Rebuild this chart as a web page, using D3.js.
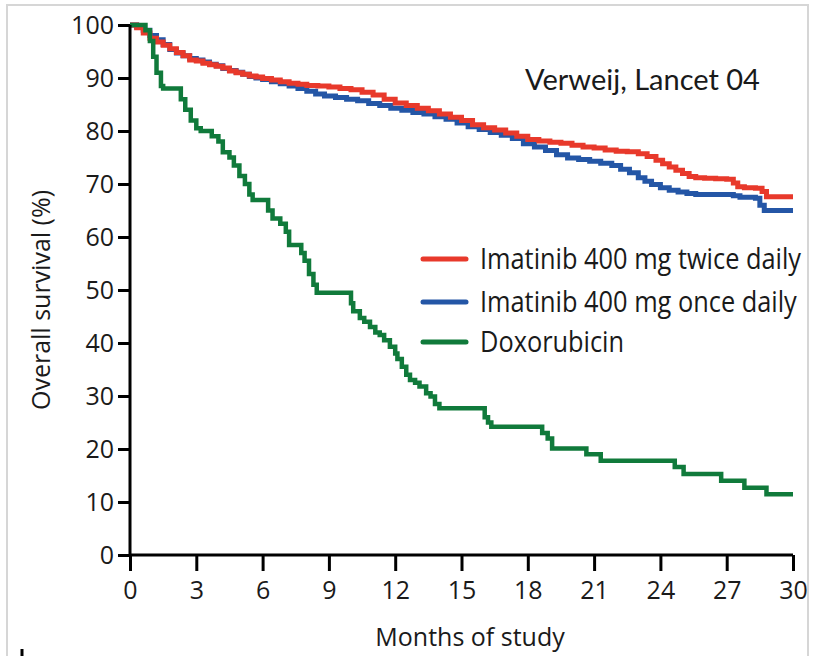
<!DOCTYPE html>
<html>
<head>
<meta charset="utf-8">
<script src="https://cdn.jsdelivr.net/npm/d3@7"></script>
<style>
  html, body { margin: 0; padding: 0; background: #fff; }
  svg { display: block; }
  text { font-family: "Open Sans", "Noto Sans", sans-serif; fill: #1a1a1a; }
</style>
</head>
<body>
<svg id="chart" width="817" height="656"></svg>
<script>
// Kaplan–Meier overall survival, step points as [month, survival %]
const twiceDaily = [
  [0,100],[0.3,99.5],[0.6,98.5],[0.9,97.5],[1.2,96.8],[1.5,96.2],[1.8,95.5],[2.1,94.8],
  [2.4,94.2],[2.7,93.4],[3.0,93.2],[3.3,92.8],[3.6,92.5],[3.9,92.2],[4.2,91.9],[4.5,91.3],
  [4.8,91.0],[5.1,90.7],[5.4,90.4],[5.7,90.2],[6.0,89.9],[6.4,89.6],[6.8,89.3],[7.2,89.0],
  [7.6,88.8],[8.0,88.6],[8.5,88.5],[9.0,88.3],[9.5,88.0],[10.0,87.8],[10.5,87.3],[11.0,86.8],
  [11.5,86.0],[12.0,85.3],[12.5,84.8],[13.0,84.3],[13.5,83.8],[14.0,83.2],[14.5,82.6],[15.0,82.0],
  [15.5,81.2],[16.0,80.6],[16.5,80.2],[17.0,79.6],[17.5,79.0],[18.0,78.4],[18.5,78.1],[19.0,77.9],
  [19.5,77.7],[20.0,77.3],[20.5,77.0],[21.0,76.8],[21.5,76.4],[22.0,76.2],[22.5,76.1],[23.0,75.7],
  [23.4,75.2],[23.8,74.5],[24.1,73.8],[24.4,73.2],[24.7,72.6],[25.0,72.0],[25.3,71.4],[25.6,71.2],
  [26.0,71.1],[26.5,71.0],[27.0,70.9],[27.3,70.2],[27.5,69.5],[27.8,69.3],[28.3,69.2],[28.6,68.6],
  [28.8,67.6],[30,67.6]
];
const onceDaily = [
  [0,100],[0.3,99.6],[0.6,99.0],[0.9,98.0],[1.2,97.2],[1.5,96.3],[1.8,95.4],[2.1,94.7],
  [2.4,94.2],[2.7,93.7],[3.0,93.4],[3.3,93.0],[3.6,92.6],[3.9,92.3],[4.2,91.8],[4.5,91.4],
  [4.8,91.1],[5.1,90.7],[5.4,90.3],[5.7,90.0],[6.0,89.7],[6.4,89.3],[6.8,88.9],[7.2,88.5],
  [7.6,88.0],[8.0,87.5],[8.4,87.0],[8.8,86.6],[9.3,86.3],[9.8,86.0],[10.3,85.7],[10.8,85.2],
  [11.3,84.8],[11.8,84.3],[12.3,83.9],[12.8,83.5],[13.3,83.2],[13.8,82.7],[14.3,82.2],[14.8,81.5],
  [15.3,80.8],[15.8,80.3],[16.3,79.7],[16.8,79.2],[17.3,78.6],[17.8,77.6],[18.3,77.0],[18.8,76.3],
  [19.3,75.5],[19.8,74.9],[20.3,74.6],[20.8,74.3],[21.3,73.9],[21.8,73.5],[22.2,72.8],[22.6,72.1],
  [23.0,71.2],[23.3,70.5],[23.6,69.9],[24.0,69.3],[24.4,68.8],[24.8,68.5],[25.2,68.2],[25.6,68.0],
  [26.5,68.0],[27.3,67.8],[27.6,67.5],[28.3,67.3],[28.5,66.0],[28.7,65.0],[30,65.0]
];
const doxorubicin = [
  [0,100],[0.7,99],[0.9,97],[1.05,94],[1.2,91],[1.4,88.5],[1.5,88],
  [2.3,86],[2.5,84],[2.75,82],[3.0,80.5],[3.2,80],
  [3.7,79],[4.0,78],[4.2,76],[4.5,75],[4.7,73.5],[4.95,71.5],[5.2,70],[5.4,68],[5.55,67],
  [6.25,65],[6.45,63.5],[6.8,62.5],[7.05,61],[7.2,58.5],
  [7.75,57],[7.9,55.5],[8.1,53],[8.3,51],[8.45,49.5],
  [10.0,47.5],[10.1,46],[10.4,44.7],[10.6,44],[10.86,43],[11.1,42],[11.3,41.5],[11.5,40.5],
  [11.76,39.3],[12.0,38],[12.1,37],[12.3,35.5],[12.5,34],[12.67,33],[12.9,32.5],[13.1,31.8],
  [13.4,30.5],[13.6,29.9],[13.8,28.5],[14.0,27.7],
  [16.05,26],[16.2,25],[16.35,24.2],
  [18.65,23],[18.9,22],[19.1,20.1],
  [20.65,19],[21.3,17.8],
  [24.65,16.6],[25.05,15.3],
  [26.75,14.0],[27.8,12.7],[28.8,11.45],[30,11.45]
];

const seriesNames = ["Imatinib 400 mg twice daily", "Imatinib 400 mg once daily", "Doxorubicin"];
const seriesColors = ["#e8392b", "#2456a6", "#107a3b"];
const xTicks = [0, 3, 6, 9, 12, 15, 18, 21, 24, 27, 30];
const yTicks = [0, 10, 20, 30, 40, 50, 60, 70, 80, 90, 100];
const xTitle = "Months of study";
const yTitle = "Overall survival (%)";
const citation = "Verweij, Lancet 04";

const svg = d3.select("#chart");

// slide frame
svg.append("rect")
  .attr("x", 7).attr("y", 5).attr("width", 801).attr("height", 670)
  .attr("fill", "none").attr("stroke", "#d6d6d6").attr("stroke-width", 2);
// stray stroke at the bottom-left of the slide
svg.append("line")
  .attr("x1", 22).attr("x2", 22).attr("y1", 649).attr("y2", 656)
  .attr("stroke", "#000").attr("stroke-width", 3);

const x = d3.scaleLinear().domain([0, 30]).range([130, 793]);
const y = d3.scaleLinear().domain([0, 100]).range([555, 25]);

const line = d3.line()
  .x(d => x(d[0]))
  .y(d => y(d[1]))
  .curve(d3.curveStepAfter);

// survival curves: once daily underneath, then twice daily, doxorubicin on top
const curves = [
  { data: onceDaily, color: seriesColors[1], width: 5 },
  { data: twiceDaily, color: seriesColors[0], width: 5 },
  { data: doxorubicin, color: seriesColors[2], width: 4.5 }
];
svg.append("g").selectAll("path")
  .data(curves)
  .join("path")
  .attr("d", d => line(d.data))
  .attr("fill", "none")
  .attr("stroke", d => d.color)
  .attr("stroke-width", d => d.width)
  .attr("stroke-linejoin", "miter");

// axes
const yAxis = d3.axisLeft(y).tickValues(yTicks).tickSize(12).tickPadding(4);
const gy = svg.append("g").attr("transform", `translate(${x(0)},0)`).call(yAxis);
const xAxis = d3.axisBottom(x).tickValues(xTicks).tickSize(16).tickPadding(10);
const gx = svg.append("g").attr("transform", `translate(0,${y(0)})`).call(xAxis);

[gx, gy].forEach(g => {
  g.select(".domain").attr("stroke", "#000").attr("stroke-width", 3);
  g.selectAll(".tick line").attr("stroke", "#000").attr("stroke-width", 3);
  g.selectAll(".tick text")
    .attr("fill", "#1a1a1a")
    .style("font-family", '"Open Sans", sans-serif')
    .style("font-size", "25px");
});
gy.select(".domain").attr("d", `M0,${y(100)}V${y(0)}`);
gx.select(".domain").attr("d", `M${x(0)},0H${x(30)}`);

// axis titles
svg.append("text")
  .attr("x", 470).attr("y", 646)
  .attr("text-anchor", "middle")
  .style("font-size", "25px")
  .text(xTitle);
svg.append("text")
  .attr("transform", "translate(50,300) rotate(-90)")
  .attr("text-anchor", "middle")
  .style("font-size", "25px")
  .text(yTitle);

// citation
svg.append("text")
  .attr("x", 525).attr("y", 90)
  .style("font-family", "Lato, sans-serif")
  .style("font-size", "29px")
  .attr("fill", "#000")
  .text(citation);

// legend (narrow face: glyphs compressed horizontally)
const legend = svg.append("g").attr("transform", "translate(420,259)");
const rows = legend.selectAll("g")
  .data(seriesNames.map((name, i) => ({ name, color: seriesColors[i] })))
  .join("g")
  .attr("transform", (d, i) => `translate(0,${[0, 43, 83][i]})`);
rows.append("line")
  .attr("x1", 3).attr("x2", 46).attr("y1", 0).attr("y2", 0)
  .attr("stroke", d => d.color).attr("stroke-width", 5)
  .attr("stroke-linecap", "round");
rows.append("text")
  .attr("transform", "translate(60,10) scale(0.845,1)")
  .style("font-size", "30px")
  .text(d => d.name);
</script>
</body>
</html>
